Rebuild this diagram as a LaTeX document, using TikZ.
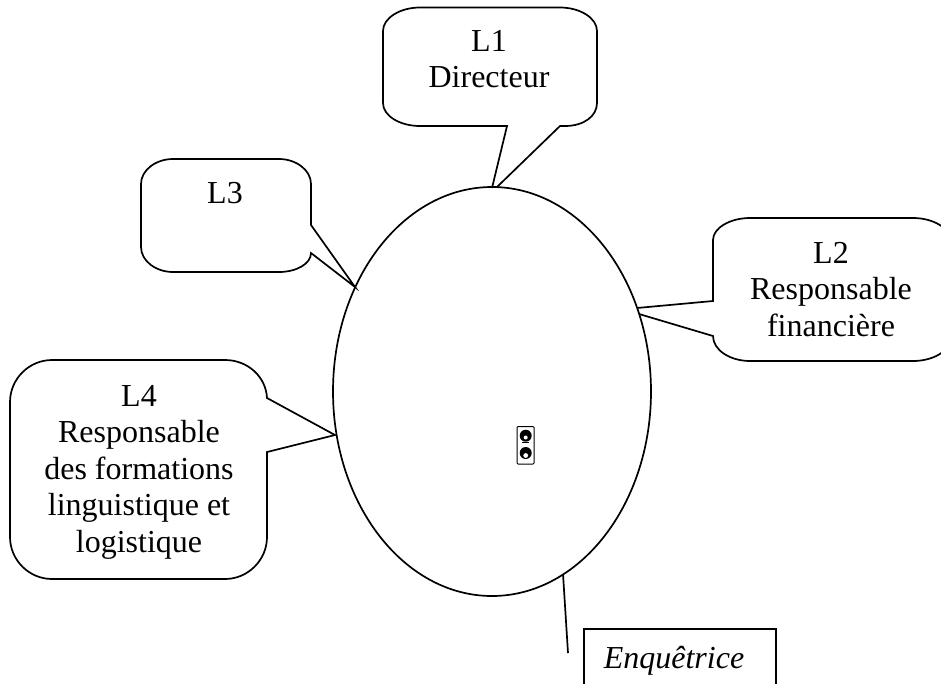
\documentclass[tikz,border=0pt]{standalone}
\usepackage{fontspec}
\setmainfont{Liberation Serif}
\usetikzlibrary{shapes.geometric}
\tikzset{
  outline/.style={draw=black,line width=1.7pt,line join=miter},
  lbl/.style={align=center,font=\fontsize{32}{36.5}\selectfont,inner sep=0pt,text=black},
  oval/.style={outline,ellipse,inner sep=0pt,minimum width=318pt,minimum height=409pt}
}
\begin{document}
\begin{tikzpicture}[x=1pt,y=-1pt]
\useasboundingbox (0,0) rectangle (941,683);
\clip (0,0) rectangle (941,683);
\fill[white] (0,0) rectangle (941,683);
\node[oval] (main) at (492,391.5) {};
% L1
\coordinate (t1a) at (492,188);
\coordinate (t1b) at (497,187);
\draw[outline] (t1b) -- (560,126) -- (565,126) .. controls (584,126) and (597,116) .. (597,103)
  -- (597,31) .. controls (597,18) and (580,7.5) .. (560,7.5) -- (420,7.5)
  .. controls (400,7.5) and (383,18) .. (383,31) -- (383,103)
  .. controls (383,116) and (400,126) .. (420,126) -- (507,126) -- (t1a);
\node[lbl] (l1) at (489,59) {L1\\Directeur};
% L3
\coordinate (t3) at (355,287);
\draw[outline] (t3) -- (311,225) -- (311,184) .. controls (311,170) and (296,159) .. (279,159)
  -- (173,159) .. controls (156,159) and (141,170) .. (141,184) -- (141,247)
  .. controls (141,261) and (156,272) .. (173,272) -- (279,272)
  .. controls (296,272) and (311,264) .. (311,253) -- cycle;
\node[lbl] (l3) at (225,193) {L3};
% L2
\coordinate (t2a) at (637,308);
\coordinate (t2b) at (639,314);
\draw[outline] (t2a) -- (713,301) -- (713,240)
  .. controls (713,228) and (730,218) .. (750,218) -- (913,218)
  .. controls (933,218) and (950,228) .. (950,240) -- (950,339)
  .. controls (950,351) and (933,361) .. (913,361) -- (750,361)
  .. controls (730,361) and (713,350) .. (713,336) -- (t2b);
\node[lbl] (l2) at (831,289.5) {L2\\Responsable\\financière};
% L4
\coordinate (t4) at (335,435);
\draw[outline] (t4) -- (267,398) .. controls (266,377) and (248,360) .. (225,360)
  -- (52,360) .. controls (29,360) and (10,379) .. (10,402) -- (10,537)
  .. controls (10,560) and (29,579) .. (52,579) -- (225,579)
  .. controls (248,579) and (267,560) .. (267,537) -- (267,452) -- cycle;
\node[lbl] (l4) at (139,472) {L4\\Responsable\\des formations\\linguistique et\\logistique};
% Enquetrice
\coordinate (ebtm) at (568,653);
\coordinate (etop) at (563,574);
\draw[outline] (etop) -- (ebtm);
\draw[outline] (776,700) -- (776,629) -- (584,629) -- (584,700);
\node[lbl,font=\fontsize{32}{36}\selectfont\itshape] (enq) at (674,661) {Enquêtrice};
% icon
\draw[line width=1pt,rounded corners=1pt] (517,426.5) rectangle (534,464);
\fill (525.7,435.7) circle (6pt);
\fill[white] (525.7,437.5) circle (2pt);
\draw[line width=1.5pt] (522,442.7) -- (529,442.7);
\fill (525.7,453) circle (6pt);
\fill[white] (525.7,455.5) circle (2.4pt);
\end{tikzpicture}
\end{document}
